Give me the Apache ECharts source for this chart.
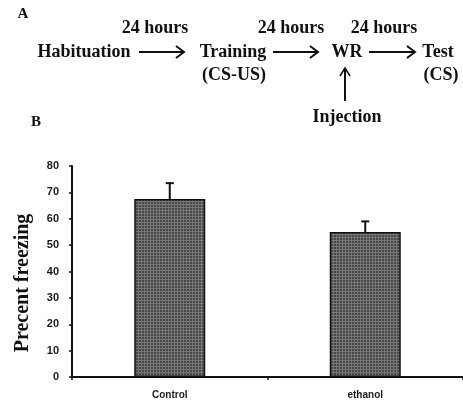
<!DOCTYPE html>
<html>
<head>
<meta charset="utf-8">
<script src="https://cdn.jsdelivr.net/npm/echarts@6/dist/echarts.min.js"></script>
<style>
html,body{margin:0;padding:0;background:#fff;}
#c{width:463px;height:400px;}
</style>
</head>
<body>
<div id="c"></div>
<script>
var categories = ['Control', 'ethanol'];
var means = [67.5, 55];
var errors = [6, 4];
var yTicks = [0, 10, 20, 30, 40, 50, 60, 70, 80];
var yAxisTitle = 'Precent freezing';

// grid-like fill pattern
var tile = document.createElement('canvas');
tile.width = 3; tile.height = 3;
var tc = tile.getContext('2d');
tc.fillStyle = '#474747'; tc.fillRect(0, 0, 3, 3);
tc.fillStyle = '#787878'; tc.fillRect(0, 0, 3, 1); tc.fillRect(0, 0, 1, 3);

var serif = 'bold 18px "Liberation Serif", "Times New Roman", serif';
function txt(s, x, y, font, rot) {
  var t = { type: 'text', style: { text: s, x: 0, y: 0, font: font || serif, fill: '#111',
    textAlign: 'center', textVerticalAlign: 'middle', align: 'center', verticalAlign: 'middle' },
    x: x, y: y };
  if (rot) t.rotation = rot;
  return t;
}
function harrow(x1, x2, y) {
  return [
    { type: 'line', shape: { x1: x1, y1: y, x2: x2 - 1, y2: y }, style: { stroke: '#111', lineWidth: 2 } },
    { type: 'polyline', shape: { points: [[x2 - 8, y - 6], [x2, y], [x2 - 8, y + 6]] }, style: { stroke: '#111', lineWidth: 2, fill: null } }
  ];
}
var graphics = [
  txt('A', 23, 14, 'bold 15px "Liberation Serif", serif'),
  txt('B', 36, 122, 'bold 15px "Liberation Serif", serif'),
  txt('24 hours', 155, 28), txt('24 hours', 291, 28), txt('24 hours', 384, 28),
  txt('Habituation', 84, 52), txt('Training', 233, 52), txt('(CS-US)', 234, 75),
  txt('WR', 347, 52), txt('Test', 438, 52), txt('(CS)', 441, 75),
  txt('Injection', 347, 117),
  txt(yAxisTitle, 23, 283, 'bold 20px "Liberation Serif", "Times New Roman", serif', Math.PI / 2),
  { type: 'line', shape: { x1: 345, y1: 101, x2: 345, y2: 69 }, style: { stroke: '#111', lineWidth: 2 } },
  { type: 'polyline', shape: { points: [[340, 76], [345, 68], [350, 76]] }, style: { stroke: '#111', lineWidth: 1.5, fill: null } }
].concat(harrow(139, 184, 52), harrow(273, 318, 52), harrow(369, 415, 52));

var chart = echarts.init(document.getElementById('c'));
chart.setOption({
  animation: false,
  graphic: graphics,
  grid: { left: 72, right: 0, top: 166, bottom: 23, containLabel: false },
  xAxis: {
    type: 'category', data: categories, boundaryGap: true,
    axisLine: { lineStyle: { color: '#111', width: 2 } },
    axisTick: { show: true, length: 3, lineStyle: { color: '#111', width: 1.5 } },
    axisLabel: { fontSize: 10, fontWeight: 'bold', fontFamily: 'Liberation Sans, Arial, sans-serif', color: '#1a1a1a', margin: 13 }
  },
  yAxis: {
    type: 'value', min: 0, max: 80, interval: 10,
    axisLine: { show: true, lineStyle: { color: '#111', width: 2 } },
    axisTick: { show: true, length: 3, lineStyle: { color: '#111', width: 1.5 } },
    axisLabel: { fontSize: 11, fontWeight: 'bold', fontFamily: 'Liberation Sans, Arial, sans-serif', color: '#1a1a1a', margin: 13,
      formatter: function (v) { return yTicks.indexOf(v) >= 0 ? String(v) : ''; } },
    splitLine: { show: false }
  },
  series: [
    {
      type: 'bar', data: means, barWidth: 71,
      itemStyle: { color: { image: tile, repeat: 'repeat' }, borderColor: '#111', borderWidth: 1.5 },
      z: 2
    },
    {
      type: 'custom', z: 3,
      data: means.map(function (m, i) { return [i, m, m + errors[i]]; }),
      renderItem: function (params, api) {
        var i = api.value(0);
        var p1 = api.coord([i, api.value(1)]);
        var p2 = api.coord([i, api.value(2)]);
        return { type: 'group', children: [
          { type: 'line', shape: { x1: p1[0], y1: p1[1], x2: p2[0], y2: p2[1] }, style: { stroke: '#111', lineWidth: 2 } },
          { type: 'line', shape: { x1: p2[0] - 4, y1: p2[1], x2: p2[0] + 4, y2: p2[1] }, style: { stroke: '#111', lineWidth: 2 } }
        ] };
      }
    }
  ]
});
</script>
</body>
</html>
